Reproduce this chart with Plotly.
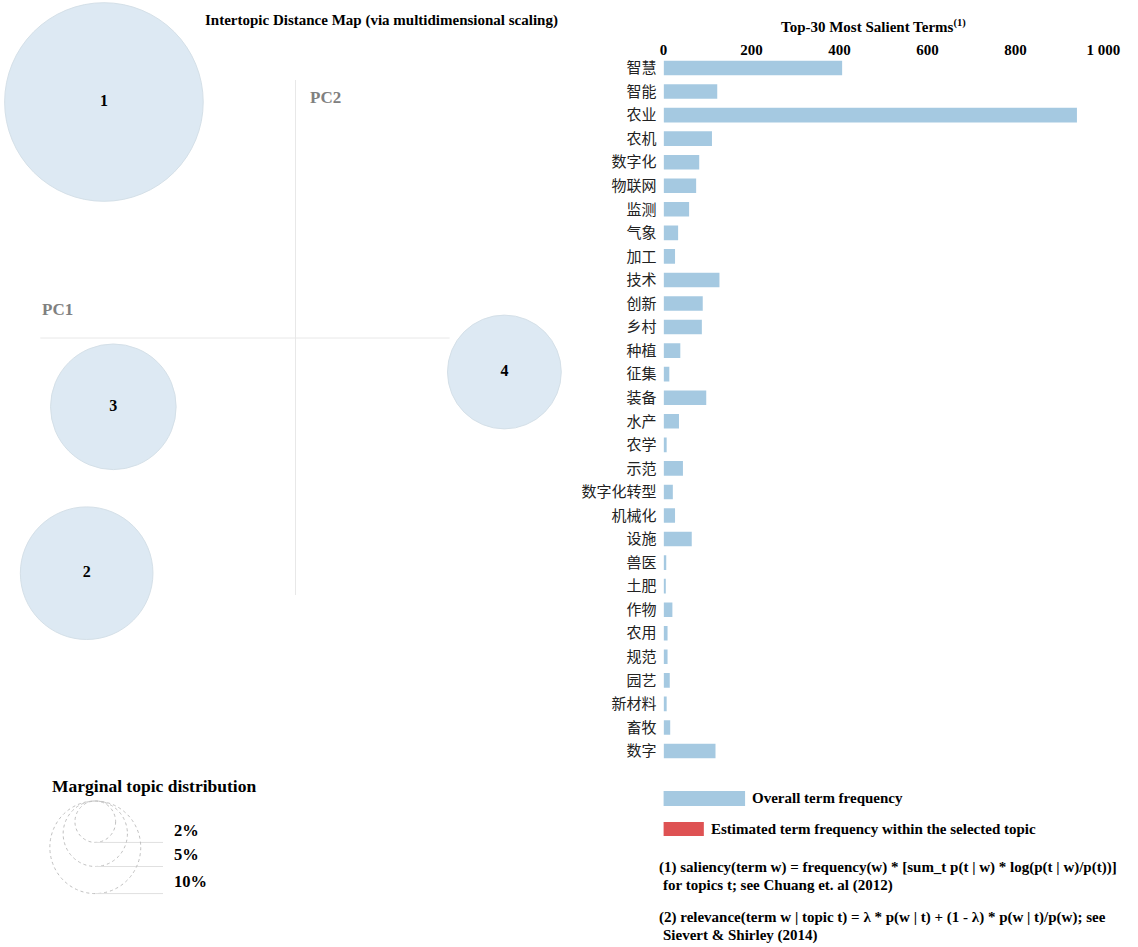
import plotly.graph_objects as go

W, H = 1138, 947

# ---------------- data ----------------
topic_ids = ["1", "2", "3", "4"]
topic_pc1 = [-0.244, -0.266, -0.232, 0.266]
topic_pc2 = [0.295, -0.294, -0.086, -0.0425]
topic_share = [46.0, 20.5, 18.4, 15.1]  # marginal topic distribution, %

terms = ["智慧", "智能", "农业", "农机", "数字化", "物联网", "监测", "气象", "加工", "技术",
         "创新", "乡村", "种植", "征集", "装备", "水产", "农学", "示范", "数字化转型", "机械化",
         "设施", "兽医", "土肥", "作物", "农用", "规范", "园艺", "新材料", "畜牧", "数字"]
term_freq = [406, 122, 940, 110, 81, 74, 58, 33, 26, 127,
             89, 87, 38, 13, 97, 35, 7, 44, 21, 26,
             64, 6, 5, 20, 9, 9, 14, 7, 15, 118]

freq_ticks = [0, 200, 400, 600, 800, 1000]
freq_tick_labels = ["0", "200", "400", "600", "800", "1 000"]

legend_shares = [2, 5, 10]
legend_labels = ["2%", "5%", "10%"]

# ---------------- helpers ----------------
def px(x):
    return x / W

def py(y):
    return 1 - y / H

SERIF = "Liberation Serif, Times New Roman, serif"
CJK = "Noto Sans CJK SC"
K = 14.64          # radius (px) per sqrt(percent)
PPU = 800          # px per MDS unit

fig = go.Figure()

# ---------------- intertopic distance map ----------------
ox, oy = 297, 338
fig.add_trace(go.Scatter(
    x=topic_pc1, y=topic_pc2, mode="markers+text",
    text=topic_ids, textposition="middle center",
    textfont=dict(family=SERIF, size=16, color="black", weight="bold"),
    marker=dict(size=[2 * K * s ** 0.5 for s in topic_share], sizemode="diameter",
                color="#cfe1ee", line=dict(color="#c3d3df", width=1)),
    cliponaxis=False, hoverinfo="text", showlegend=False,
    xaxis="x", yaxis="y"))

# ---------------- bar chart ----------------
fig.add_trace(go.Bar(
    x=term_freq, y=terms, orientation="h",
    marker=dict(color="rgba(31,119,180,0.4)", line=dict(width=0)),
    showlegend=False, xaxis="x2", yaxis="y2"))

# invisible trace for the marginal legend axis
fig.add_trace(go.Scatter(x=[0, 300], y=[770, 947], mode="markers",
                         marker=dict(opacity=0), hoverinfo="skip",
                         showlegend=False, xaxis="x3", yaxis="y3"))

bar_top, bar_bot = 68 - 11.78, 751 + 11.78

fig.update_layout(
    width=W, height=H, margin=dict(l=0, r=0, t=0, b=0),
    paper_bgcolor="white", plot_bgcolor="white",
    bargap=0.38,
    xaxis=dict(domain=[0, px(600)], range=[(0 - ox) / PPU, (600 - ox) / PPU],
               visible=False, fixedrange=True),
    yaxis=dict(domain=[py(660), 1], range=[(oy - 660) / PPU, oy / PPU],
               visible=False, fixedrange=True),
    xaxis2=dict(domain=[px(672), px(1120)], range=[0, 1000], side="top", anchor="y2",
                tickvals=freq_ticks, ticktext=freq_tick_labels, ticklabelstandoff=-3,
                tickfont=dict(family=SERIF, size=15, color="black", weight="bold"),
                showgrid=False, zeroline=False, showline=False, ticks=""),
    yaxis2=dict(domain=[py(bar_bot), py(bar_top)], anchor="x2", type="category",
                autorange="reversed", ticks="", ticklabelstandoff=6,
                tickfont=dict(family=CJK, size=15, color="#222"),
                showgrid=False, zeroline=False, showline=False),
    xaxis3=dict(domain=[0, px(300)], range=[0, 300], visible=False, fixedrange=True),
    yaxis3=dict(domain=[0, py(770)], range=[947, 770], visible=False, fixedrange=True),
)

shapes = []
# PC axes
shapes.append(dict(type="line", xref="x", yref="y", x0=0, x1=0,
                   y0=(oy - 80) / PPU, y1=(oy - 595) / PPU,
                   line=dict(color="#e8e8e8", width=1)))
shapes.append(dict(type="line", xref="x", yref="y", y0=0, y1=0,
                   x0=(37 - ox) / PPU, x1=(454 - ox) / PPU,
                   line=dict(color="#e8e8e8", width=1)))

# marginal topic distribution legend
cx, top = 93, 801
annotations = []
for s, lab in zip(legend_shares, legend_labels):
    r = K * s ** 0.5
    shapes.append(dict(type="circle", xref="x3", yref="y3",
                       x0=cx - r, x1=cx + r, y0=top, y1=top + 2 * r,
                       line=dict(color="#c0c0c0", width=1, dash="dot")))
    shapes.append(dict(type="line", xref="x3", yref="y3",
                       x0=cx, x1=162, y0=top + 2 * r, y1=top + 2 * r,
                       line=dict(color="#e0e0e0", width=1)))
    annotations.append(dict(xref="x3", yref="y3", x=171, y=top + 2 * r - 12,
                            text=lab, showarrow=False, xanchor="left", yanchor="middle",
                            font=dict(family=SERIF, size=16.5, color="black", weight="bold")))

# bar legend swatches
shapes.append(dict(type="rect", xref="paper", yref="paper",
                   x0=px(672), x1=px(755), y0=py(806), y1=py(791),
                   fillcolor="rgba(31,119,180,0.4)", line=dict(width=0)))
shapes.append(dict(type="rect", xref="paper", yref="paper",
                   x0=px(672), x1=px(713), y0=py(836), y1=py(822),
                   fillcolor="rgba(214,39,40,0.8)", line=dict(width=0)))

def txt(x, y, s, size, color="black", anchor="left", family=SERIF):
    annotations.append(dict(xref="paper", yref="paper", x=px(x), y=py(y), text=s,
                            showarrow=False, xanchor=anchor, yanchor="middle",
                            font=dict(family=family, size=size, color=color, weight="bold")))

txt(385, 20, "Intertopic Distance Map (via multidimensional scaling)", 15, anchor="center")
txt(310, 97, "PC2", 17, color="#808080")
txt(37, 310, "PC1", 17, color="#808080")
txt(886, 26, "Top-30 Most Salient Terms<sup>(1)</sup>", 15, anchor="center")
txt(47, 786, "Marginal topic distribution", 17.5)
txt(760, 798, "Overall term frequency", 15)
txt(718, 829, "Estimated term frequency within the selected topic", 15)
txt(665, 867, "(1) saliency(term w) = frequency(w) * [sum_t p(t | w) * log(p(t | w)/p(t))]", 15)
txt(669, 885, "for topics t; see Chuang et. al (2012)", 15)
txt(665, 917, "(2) relevance(term w | topic t) = λ * p(w | t) + (1 - λ) * p(w | t)/p(w); see", 15)
txt(669, 935, "Sievert &amp; Shirley (2014)", 15)

fig.update_layout(shapes=shapes, annotations=annotations)
fig.write_html(
    "out.html",
    config={"displayModeBar": False},
    post_script=("document.documentElement.style.margin='0';"
                 "document.body.style.margin='0';"
                 "document.documentElement.style.overflow='hidden';"
                 "document.body.style.overflow='hidden';"),
)
